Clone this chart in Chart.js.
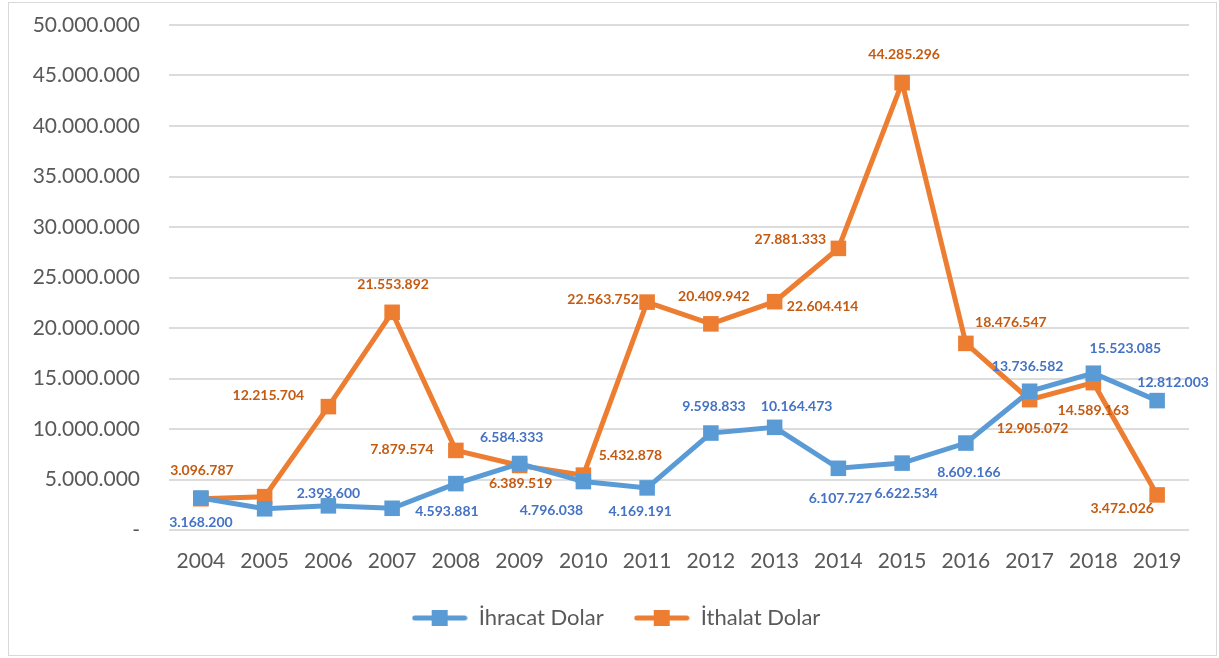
<!DOCTYPE html>
<html>
<head>
<meta charset="utf-8">
<script src="https://cdn.jsdelivr.net/npm/chart.js@4.4.1/dist/chart.umd.min.js"></script>
<style>
  body { margin: 0; background: #fff; }
  #box {
    position: absolute; left: 8px; top: 2px;
    width: 1207px; height: 652px;
    border: 1px solid #d9d9d9;
  }
</style>
</head>
<body>
<div id="box"><canvas id="chart" width="1207" height="652"></canvas></div>
<script>
const years = ["2004", "2005", "2006", "2007", "2008", "2009", "2010", "2011",
  "2012", "2013", "2014", "2015", "2016", "2017", "2018", "2019"];
const ihracat = [3168200, 2100000, 2393600, 2150000, 4593881, 6584333, 4796038, 4169191,
  9598833, 10164473, 6107727, 6622534, 8609166, 13736582, 15523085, 12812003];
const ithalat = [3096787, 3300000, 12215704, 21553892, 7879574, 6389519, 5432878, 22563752,
  20409942, 22604414, 27881333, 44285296, 18476547, 12905072, 14589163, 3472026];
const yTicks = [0, 5000000, 10000000, 15000000, 20000000, 25000000, 30000000,
  35000000, 40000000, 45000000, 50000000];

// label offsets from each point (null = no label shown)
const ihracatLabelPos = [[0, 24], null, [0, -12], null, [-9, 28], [-8, -26], [-32, 29], [-7, 24],
  [3, -27], [22, -21], [2, 30], [4, 30], [3, 29], [-2, -25], [32, -25], [16, -18]];
const ithalatLabelPos = [[1, -28], null, [-60, -11], [1, -28], [-54, -1], [1, 18], [47, -20], [-44, -3],
  [3, -27], [48, 5], [-48, -9], [2, -28], [45, -21], [3, 29], [0, 28], [-35, 14]];

const FONT = "Lato, 'Open Sans', sans-serif";
const fmt = v => v === 0 ? "-" : v.toLocaleString("de-DE");

function legendIcon(color) {
  const c = document.createElement("canvas");
  c.width = 56; c.height = 16;
  const g = c.getContext("2d");
  g.strokeStyle = color; g.lineWidth = 5; g.lineCap = "round";
  g.beginPath(); g.moveTo(3, 8); g.lineTo(53, 8); g.stroke();
  g.fillStyle = color; g.fillRect(20, 0, 16, 16);
  return c;
}

const pointLabels = {
  id: "pointLabels",
  afterLayout(chart) {
    // centre the legend under the whole frame, not the plot
    chart.legend.left += 17;
    chart.legend.right += 17;
  },
  afterDatasetsDraw(chart) {
    const ctx = chart.ctx;
    ctx.save();
    ctx.font = "bold 14px " + FONT;
    ctx.textAlign = "center";
    ctx.textBaseline = "middle";
    chart.data.datasets.forEach((ds, i) => {
      const meta = chart.getDatasetMeta(i);
      meta.data.forEach((pt, j) => {
        const off = ds.labelPos[j];
        if (!off) return;
        ctx.fillStyle = ds.labelColor;
        ctx.fillText(fmt(ds.data[j]), pt.x + off[0], pt.y + off[1]);
      });
    });
    ctx.restore();
  }
};

new Chart(document.getElementById("chart"), {
  type: "line",
  data: {
    labels: years,
    datasets: [
      {
        label: "İhracat Dolar",
        data: ihracat,
        borderColor: "#5B9BD5",
        backgroundColor: "#5B9BD5",
        borderWidth: 5,
        pointStyle: "rect",
        pointRadius: 11,
        pointBorderWidth: 0,
        labelColor: "#4472C4",
        labelPos: ihracatLabelPos
      },
      {
        label: "İthalat Dolar",
        data: ithalat,
        borderColor: "#ED7D31",
        backgroundColor: "#ED7D31",
        borderWidth: 5,
        pointStyle: "rect",
        pointRadius: 11,
        pointBorderWidth: 0,
        labelColor: "#C55A11",
        labelPos: ithalatLabelPos
      }
    ]
  },
  options: {
    responsive: false,
    animation: false,
    layout: { padding: { top: 22, right: 27, left: 0, bottom: 16 } },
    plugins: {
      tooltip: { enabled: false },
      legend: {
        position: "bottom",
        labels: {
          usePointStyle: true,
          pointStyleWidth: 56,
          generateLabels(chart) {
            return chart.data.datasets.map((ds, i) => ({
              text: ds.label,
              pointStyle: legendIcon(ds.borderColor),
              fontColor: "#595959",
              lineWidth: 0,
              strokeStyle: "transparent",
              datasetIndex: i
            }));
          },
          font: { family: FONT, size: 22 },
          color: "#595959",
          padding: 30
        }
      }
    },
    scales: {
      x: {
        offset: true,
        grid: { display: false, drawTicks: false },
        border: { display: false },
        ticks: { color: "#595959", font: { family: FONT, size: 21 }, padding: 19, maxRotation: 0 },
        afterFit(s) { s.height = 47; }
      },
      y: {
        min: 0,
        max: 50000000,
        afterBuildTicks(s) { s.ticks = yTicks.map(v => ({ value: v })); },
        grid: { color: "#dcdcdc", lineWidth: 2, drawTicks: false },
        border: { display: false },
        ticks: {
          color: "#595959",
          font: { family: FONT, size: 21 },
          padding: 29,
          callback: v => fmt(v)
        },
        afterFit(s) { s.width = 160; s.paddingTop = 0; s.paddingBottom = 0; }
      }
    }
  },
  plugins: [pointLabels]
});
</script>
</body>
</html>
